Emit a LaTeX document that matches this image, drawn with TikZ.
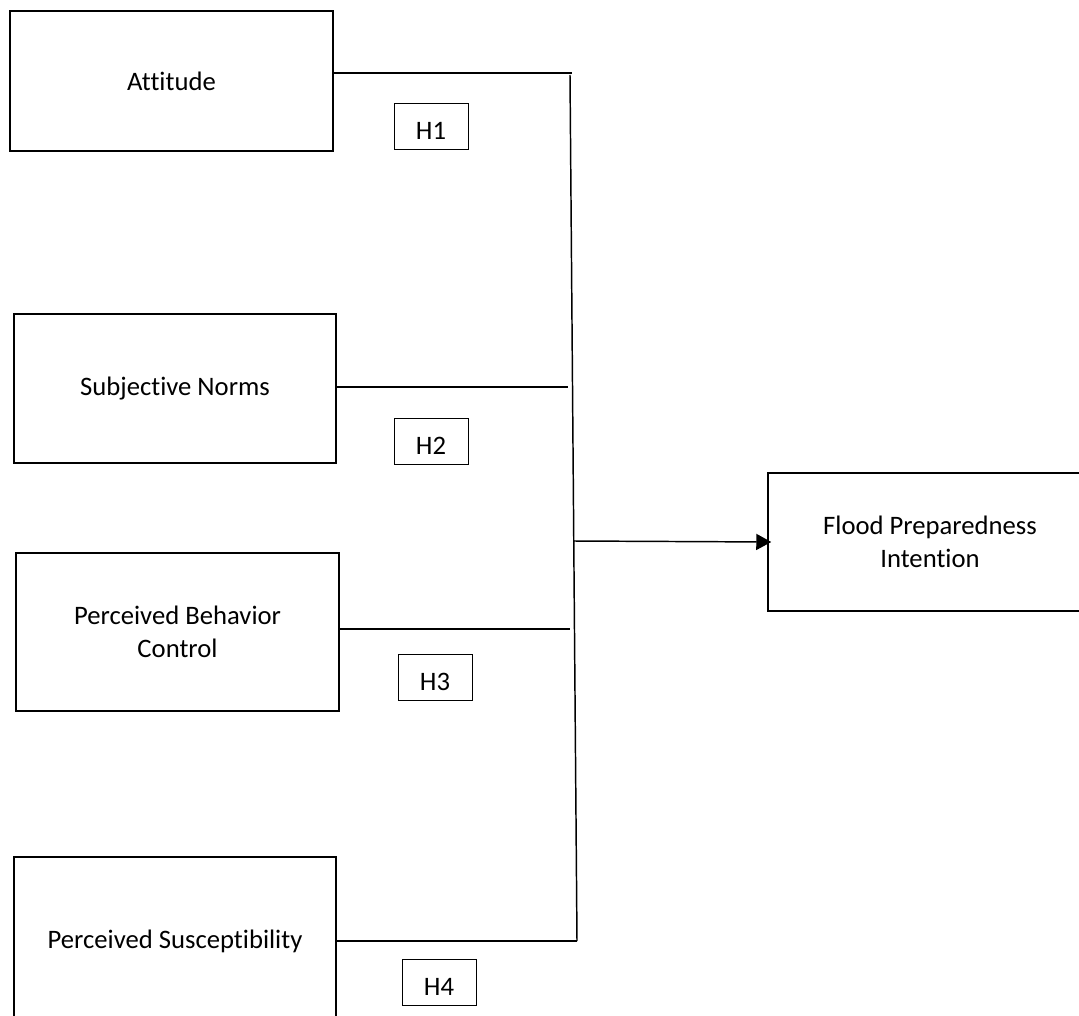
\documentclass[tikz,border=0pt]{standalone}
\usepackage{fontspec}
\setmainfont[Ligatures=NoCommon]{Carlito}
\usetikzlibrary{arrows.meta}
\begin{document}
\begin{tikzpicture}[x=0.75pt,y=-0.75pt,
  bigbox/.style={draw=black,line width=1.1pt,inner sep=0pt,align=center,
    font=\fontsize{20}{24.8}\selectfont},
  hbox/.style={draw=black,line width=0.7pt,inner sep=0pt,minimum width=74*0.75pt,
    minimum height=46*0.75pt,text height=20pt,text depth=0pt,
    font=\fontsize{20}{24.8}\selectfont},
  conn/.style={draw=black,line width=1.1pt}]
\useasboundingbox (0,0) rectangle (1079,1016);
\fill[white] (0,0) rectangle (1079,1016);
% boxes
\node[bigbox,minimum width=323*0.75pt,minimum height=140*0.75pt] (att) at (171.5,81) {Attitude};
\node[bigbox,minimum width=322*0.75pt,minimum height=149*0.75pt] (sn) at (175,388.5) {Subjective Norms};
\node[bigbox,minimum width=323*0.75pt,minimum height=158*0.75pt] (pbc) at (177.5,632) {Perceived Behavior\\Control};
\node[bigbox,minimum width=322*0.75pt,minimum height=168*0.75pt] (ps) at (175,941) {Perceived Susceptibility};
\node[bigbox,minimum width=324*0.75pt,minimum height=138*0.75pt] (fpi) at (930,542) {Flood Preparedness\\Intention};
% hypothesis labels
\node[hbox] (h1) at (431,126) {H1};
\node[hbox] (h2) at (431,441) {H2};
\node[hbox] (h3) at (435,677) {H3};
\node[hbox] (h4) at (439,982) {H4};
% junctions
\coordinate (t1) at (572,73);
\coordinate (vt) at (570,75);
\coordinate (j2) at (568,387);
\coordinate (j3) at (570,629);
\coordinate (j4) at (577,941);
\coordinate (ja) at (573,541);
% connectors
\draw[conn] (att.east |- t1) -- (t1);
\draw[conn] (sn.east |- j2) -- (j2);
\draw[conn] (pbc.east |- j3) -- (j3);
\draw[conn] (ps.east |- j4) -- (j4);
\draw[conn] (vt) -- (j4);
\draw[conn,-{Triangle[length=15*0.75pt,width=16*0.75pt]}] (ja) -- ([xshift=3pt]fpi.west);
\end{tikzpicture}
\end{document}
